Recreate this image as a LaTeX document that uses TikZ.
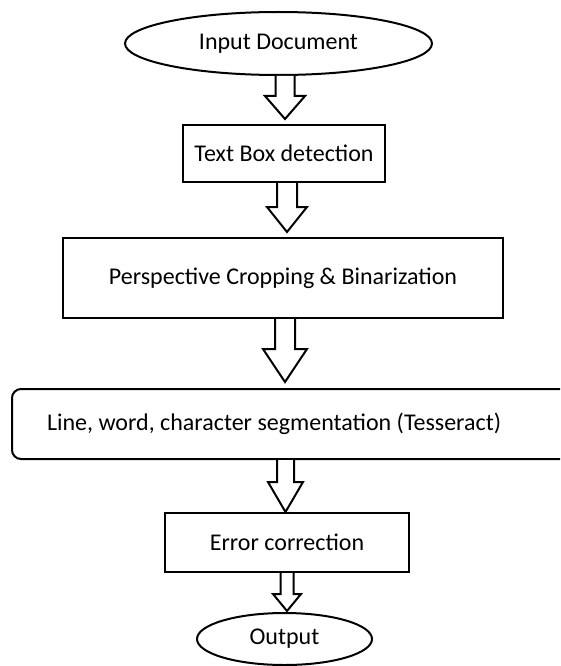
\documentclass[tikz,border=0pt]{standalone}
\usepackage{fontspec}
\setmainfont{Carlito}
\usetikzlibrary{shapes.geometric,calc}

\tikzset{
  every node/.style={font=\fontsize{24}{28}\selectfont, inner sep=0pt},
  stepbox/.style={draw, line width=2pt, rectangle},
  roundbox/.style={draw, line width=2pt, rectangle, rounded corners=9pt},
  termbox/.style={draw, line width=2pt, ellipse},
  blockarr/.style={draw, fill=white, line width=2pt, line join=miter},
}

% hollow block arrow: #1 shaft root, #2 tip, #3 half shaft width,
% #4 half head width, #5 head length
\newcommand\blockarrow[5]{%
  \draw[blockarr] ($(#1)+(-#3,0)$) -- ($(#2)+(-#3,-#5)$) -- ($(#2)+(-#4,-#5)$)
    -- (#2) -- ($(#2)+(#4,-#5)$) -- ($(#2)+(#3,-#5)$) -- ($(#1)+(#3,0)$);
}

\begin{document}
\begin{tikzpicture}[x=1pt,y=-1pt]
  \useasboundingbox (0,0) rectangle (560,666);
  \clip (0,0) rectangle (560,666);

  \node[termbox, minimum width=307pt, minimum height=63pt] (input) at (278.5,43.5) {Input Document};
  \node[stepbox, minimum width=202pt, minimum height=57pt] (tbox) at (284,153.5) {Text Box detection};
  \node[stepbox, minimum width=440pt, minimum height=80pt] (persp) at (283,278) {Perspective Cropping \& Binarization};
  \node[roundbox, minimum height=70pt, text width=493pt, inner xsep=35pt, align=flush left] (seg) at (293.5,424) {Line, word, character segmentation (Tesseract)};
  \node[stepbox, minimum width=244pt, minimum height=59pt] (err) at (287,542.5) {Error correction};
  \node[termbox, minimum width=175pt, minimum height=52pt] (out) at (284.5,639) {Output};

  % arrow roots and tips
  \coordinate (a1s) at ($(input.south)+(6.5,0)$);
  \coordinate (a1t) at ($(tbox.north)+(1,-5)$);
  \coordinate (a2s) at ($(tbox.south)+(3,0)$);
  \coordinate (a2t) at ($(persp.north)+(4,-5)$);
  \coordinate (a3s) at ($(persp.south)+(2,0)$);
  \coordinate (a3t) at ($(seg.north -| persp.north)+(2,-6)$);
  \coordinate (a4s) at ($(seg.south -| err.north)+(-1.5,0)$);
  \coordinate (a4t) at ($(err.north)+(-1.5,0)$);
  \coordinate (a5s) at (err.south);
  \coordinate (a5t) at ($(out.north)+(2.5,-1)$);

  \blockarrow{a1s}{a1t}{9.5}{20}{23}
  \blockarrow{a2s}{a2t}{10}{20}{25}
  \blockarrow{a3s}{a3t}{10}{22}{33}
  \blockarrow{a4s}{a4t}{8.5}{17.5}{30}
  \blockarrow{a5s}{a5t}{6.5}{14}{17}
\end{tikzpicture}
\end{document}
